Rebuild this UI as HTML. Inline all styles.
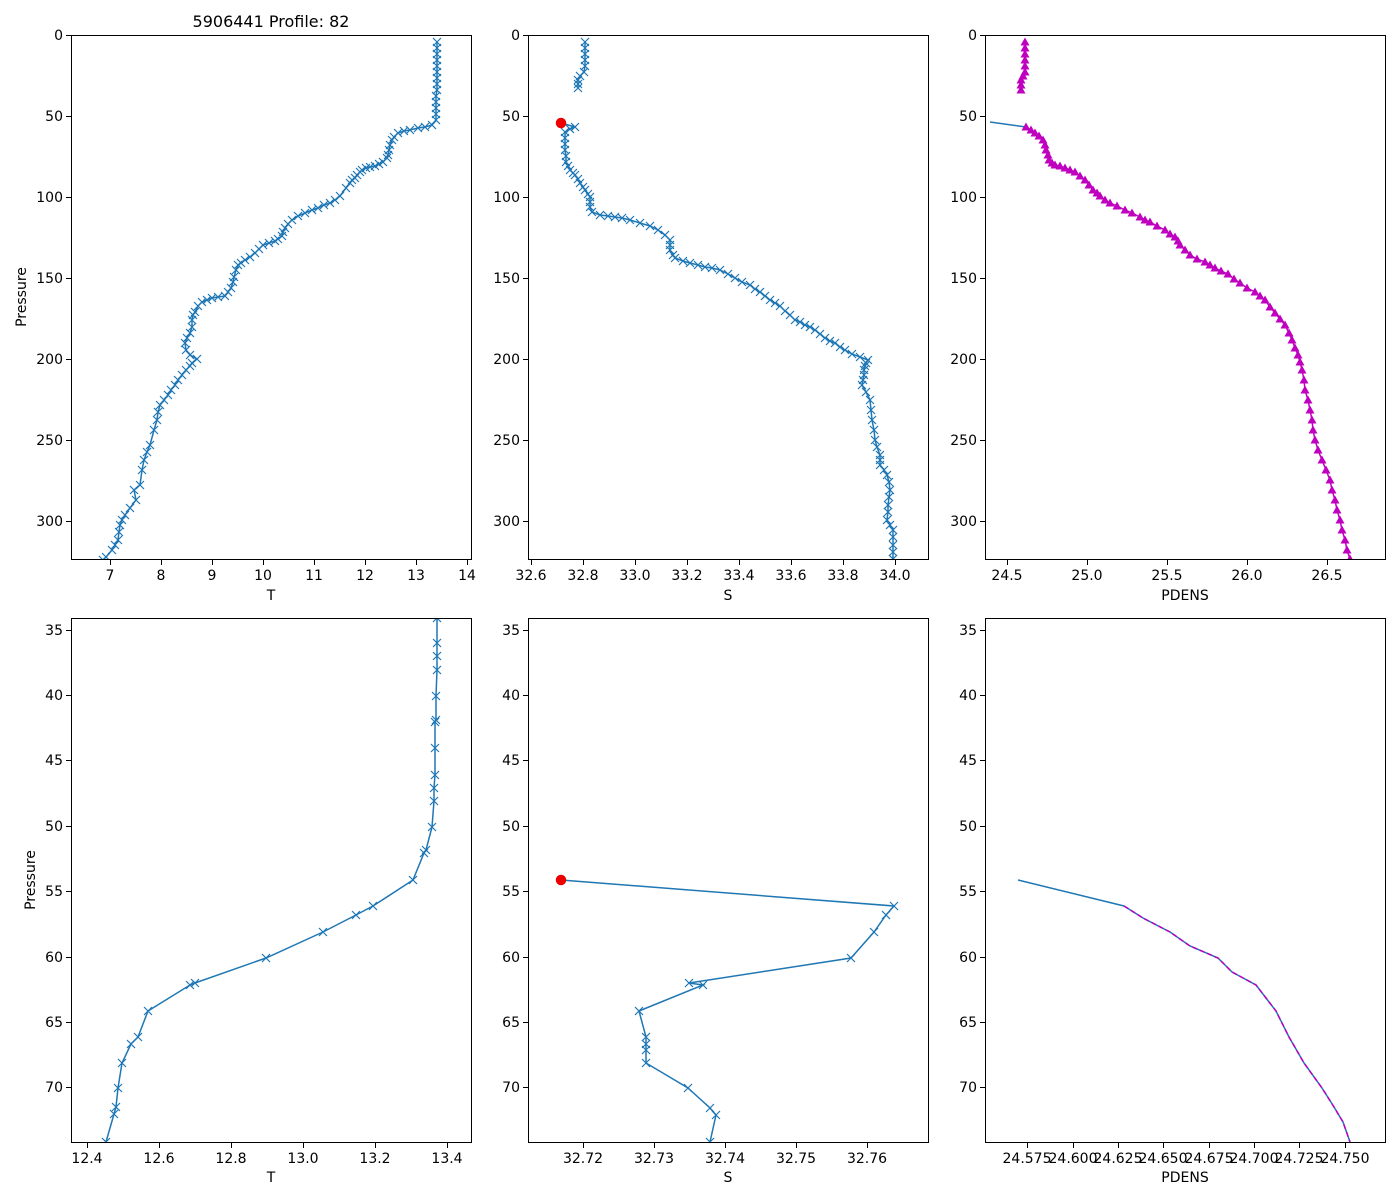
<!DOCTYPE html>
<html><head><meta charset="utf-8"><style>
html,body{margin:0;padding:0;background:#fff;}
svg{display:block;font-family:"DejaVu Sans","Liberation Sans",sans-serif;}
</style></head><body>
<svg width="1400" height="1200" viewBox="0 0 1400 1200" xmlns="http://www.w3.org/2000/svg">
<defs>
<marker id="mx" markerUnits="userSpaceOnUse" markerWidth="12" markerHeight="12" refX="6" refY="6" overflow="visible"><path d="M2,2L10,10M2,10L10,2" stroke="#1f77b4" stroke-width="1.2" fill="none"/></marker>
<marker id="mt" markerUnits="userSpaceOnUse" markerWidth="12" markerHeight="12" refX="6" refY="6" overflow="visible"><polygon points="6,1.5 10.5,9.5 1.5,9.5" fill="#bf00bf"/></marker>
<clipPath id="c1"><rect x="71" y="35" width="400" height="524"/></clipPath>
<clipPath id="c2"><rect x="528" y="35" width="400" height="524"/></clipPath>
<clipPath id="c3"><rect x="985" y="35" width="400" height="524"/></clipPath>
<clipPath id="c4"><rect x="71" y="618" width="400" height="524"/></clipPath>
<clipPath id="c5"><rect x="528" y="618" width="400" height="524"/></clipPath>
<clipPath id="c6"><rect x="985" y="618" width="400" height="524"/></clipPath>
</defs>
<rect width="1400" height="1200" fill="#fff"/>
<text x="271" y="27" font-size="16" text-anchor="middle">5906441 Profile: 82</text>

<g clip-path="url(#c1)" fill="none" stroke="#1f77b4" stroke-width="1.5">
<polyline marker-start="url(#mx)" marker-mid="url(#mx)" marker-end="url(#mx)" points="437,42 437,48 437,54 437,60 437,66 437,72 437,78 437,84 437,90 436,96 436,102 436,108 436,114 436,120 432,125 425,127 418,128 410,130 404,131 398,133 394,137 392,140 390,145 389,150 388,155 387,158 383,162 379,164 375,166 370,167 366,168 362,170 360,172 357,175 355,178 352,180 350,183 346,188 340,196 335,200 330,203 324,205 318,208 312,210 305,213 298,216 292,220 288,224 285,228 283,232 282,236 278,239 275,241 269,243 263,245 259,249 255,253 250,257 245,260 241,263 238,265 236,270 234,277 233,282 231,288 228,292 225,296 218,297 212,298 207,300 202,302 198,306 195,312 193,315 192,320 192,327 190,333 187,338 185,343 186,350 190,355 197,359 192,363 190,366 186,370 182,375 178,380 175,385 171,390 168,395 164,400 160,405 158,412 157,420 154,430 150,445 147,452 144,460 142,470 140,485 134,490 136,500 130,508 125,515 122,520 120,525 119,532 118,540 115,545 112,550 106,557 103,560"/>
</g>
<g clip-path="url(#c2)" fill="none" stroke="#1f77b4" stroke-width="1.5">
<polyline marker-start="url(#mx)" marker-mid="url(#mx)" marker-end="url(#mx)" points="585,42 585,48 585,54 585,60 585,66 584,72 580,76 578,80 578,84 578,88"/>
<polyline points="561,123 575,127"/>
<polyline marker-start="url(#mx)" marker-mid="url(#mx)" marker-end="url(#mx)" points="575,127 570,129 565,132 565,138 565,144 565,150 566,156 566,162 568,166 570,170 573,173 575,175 578,179 580,183 583,187 585,190 588,194 590,197 590,202 590,207 592,212 600,215 608,216 615,217 622,218 630,220 640,223 650,226 658,230 665,235 670,240 670,245 670,250 673,255 675,258 683,261 690,263 698,265 705,267 712,268 720,270 728,274 735,278 742,282 750,285 755,289 760,292 765,296 770,300 775,303 780,306 785,311 790,315 795,320 800,322 805,325 810,327 815,330 820,334 825,338 830,341 835,343 840,347 845,350 852,354 860,357 868,360 866,363 865,366 864,370 864,375 863,380 862,385 866,392 870,400 871,410 872,420 874,430 875,440 877,447 880,455 880,460 880,465 884,470 887,475 889,482 890,490 889,497 888,505 888,512 887,520 890,525 893,530 893,537 893,545 893,552 893,559"/>
<circle cx="561" cy="123" r="4.5" fill="#e00" stroke="#e00"/>
</g>
<g clip-path="url(#c3)" fill="none" stroke-width="1.5">
<polyline stroke="#1f77b4" points="990,122 1026,127"/>
<polyline stroke="#bf00bf" marker-start="url(#mt)" marker-mid="url(#mt)" marker-end="url(#mt)" points="1025,42 1025,48 1025,54 1025,60 1025,66 1025,72 1023,76 1021,80 1021,85 1021,90"/>
<polyline stroke="#bf00bf" marker-start="url(#mt)" marker-mid="url(#mt)" marker-end="url(#mt)" points="1026,127 1031,130 1035,133 1039,136 1043,140 1045,145 1046,150 1048,155 1049,160 1052,163 1055,165 1060,166 1065,168 1070,170 1075,172 1080,176 1085,180 1089,185 1093,190 1097,193 1100,196 1105,200 1110,203 1117,206 1125,210 1132,213 1140,217 1145,220 1150,222 1157,226 1165,230 1170,234 1175,237 1178,241 1180,245 1185,250 1190,255 1197,259 1205,262 1210,265 1215,268 1221,271 1228,274 1234,279 1240,283 1247,288 1255,292 1260,296 1265,300 1270,307 1275,313 1280,319 1285,325 1289,333 1292,340 1295,348 1298,355 1300,362 1302,370 1304,380 1305,390 1308,400 1310,410 1312,420 1313,430 1315,440 1318,450 1322,460 1326,470 1330,480 1332,490 1335,500 1337,510 1340,520 1342,530 1345,540 1347,550 1350,559"/>
</g>
<g clip-path="url(#c4)" fill="none" stroke="#1f77b4" stroke-width="1.5">
<polyline marker-start="url(#mx)" marker-mid="url(#mx)" marker-end="url(#mx)" points="437,618 437,643 437,656 437,670 436,696 436,720 435,722 435,748 435,775 434,788 434,801 432,827 426,850 424,853 413,880 373,906 356,915 323,932 266,958 195,983 190,985 148,1011 138,1037 131,1044 122,1063 118,1088 116,1107 114,1114 106,1142"/>
</g>
<g clip-path="url(#c5)" fill="none" stroke="#1f77b4" stroke-width="1.5">
<polyline marker-mid="url(#mx)" marker-end="url(#mx)" points="561,880 894,906 886,915 874,932 851,958 689,983 703,985 639,1011 646,1037 646,1044 646,1050 646,1063 688,1088 710,1108 716,1115 710,1142"/>
<circle cx="561" cy="880" r="4.5" fill="#e00" stroke="#e00"/>
</g>
<g clip-path="url(#c6)" fill="none" stroke-width="1.5">
<polyline stroke="#1f77b4" points="1018,880 1124,906 1143,918 1170,932 1190,946 1218,958 1232,972 1256,985 1276,1011 1289,1037 1304,1063 1322,1088 1334,1107 1343,1122 1350,1142"/>
<polyline stroke="#bf00bf" stroke-dasharray="5,3" points="1124,906 1143,918 1170,932 1190,946 1218,958 1232,972 1256,985 1276,1011 1289,1037 1304,1063 1322,1088 1334,1107 1343,1122 1350,1142"/>
</g>

<g fill="none" stroke="#000" stroke-width="1">
<rect x="71.5" y="35.5" width="400" height="524"/>
<rect x="528.5" y="35.5" width="400" height="524"/>
<rect x="985.5" y="35.5" width="400" height="524"/>
<rect x="71.5" y="618.5" width="400" height="524"/>
<rect x="528.5" y="618.5" width="400" height="524"/>
<rect x="985.5" y="618.5" width="400" height="524"/>
</g>

<g stroke="#000" stroke-width="1">
<path d="M66,35.5h5M66,116.5h5M66,197.5h5M66,278.5h5M66,359.5h5M66,440.5h5M66,521.5h5
M523,35.5h5M523,116.5h5M523,197.5h5M523,278.5h5M523,359.5h5M523,440.5h5M523,521.5h5
M980,35.5h5M980,116.5h5M980,197.5h5M980,278.5h5M980,359.5h5M980,440.5h5M980,521.5h5"/>
<path d="M66,630.5h5M66,695.5h5M66,760.5h5M66,826.5h5M66,891.5h5M66,957.5h5M66,1022.5h5M66,1087.5h5
M523,630.5h5M523,695.5h5M523,760.5h5M523,826.5h5M523,891.5h5M523,957.5h5M523,1022.5h5M523,1087.5h5
M980,630.5h5M980,695.5h5M980,760.5h5M980,826.5h5M980,891.5h5M980,957.5h5M980,1022.5h5M980,1087.5h5"/>
<path d="M110.5,560v5M161.5,560v5M212.5,560v5M263.5,560v5M314.5,560v5M365.5,560v5M416.5,560v5M467.5,560v5
M531.5,560v5M583.5,560v5M635.5,560v5M687.5,560v5M739.5,560v5M791.5,560v5M843.5,560v5M895.5,560v5
M1007.5,560v5M1087.5,560v5M1167.5,560v5M1247.5,560v5M1327.5,560v5"/>
<path d="M87.5,1143v5M159.5,1143v5M231.5,1143v5M303.5,1143v5M375.5,1143v5M447.5,1143v5
M583.5,1143v5M654.5,1143v5M725.5,1143v5M796.5,1143v5M867.5,1143v5
M1027.5,1143v5M1073.5,1143v5M1118.5,1143v5M1163.5,1143v5M1209.5,1143v5M1254.5,1143v5M1299.5,1143v5M1345.5,1143v5"/>
</g>
<g font-size="14" fill="#000">
<g text-anchor="end">
<text x="63" y="40">0</text><text x="63" y="121">50</text><text x="63" y="202">100</text><text x="63" y="283">150</text><text x="63" y="364">200</text><text x="63" y="445">250</text><text x="63" y="526">300</text>
<text x="520" y="40">0</text><text x="520" y="121">50</text><text x="520" y="202">100</text><text x="520" y="283">150</text><text x="520" y="364">200</text><text x="520" y="445">250</text><text x="520" y="526">300</text>
<text x="977" y="40">0</text><text x="977" y="121">50</text><text x="977" y="202">100</text><text x="977" y="283">150</text><text x="977" y="364">200</text><text x="977" y="445">250</text><text x="977" y="526">300</text>
<text x="63" y="635">35</text><text x="63" y="700">40</text><text x="63" y="765">45</text><text x="63" y="831">50</text><text x="63" y="896">55</text><text x="63" y="962">60</text><text x="63" y="1027">65</text><text x="63" y="1092">70</text>
<text x="520" y="635">35</text><text x="520" y="700">40</text><text x="520" y="765">45</text><text x="520" y="831">50</text><text x="520" y="896">55</text><text x="520" y="962">60</text><text x="520" y="1027">65</text><text x="520" y="1092">70</text>
<text x="977" y="635">35</text><text x="977" y="700">40</text><text x="977" y="765">45</text><text x="977" y="831">50</text><text x="977" y="896">55</text><text x="977" y="962">60</text><text x="977" y="1027">65</text><text x="977" y="1092">70</text>
</g>
<g text-anchor="middle">
<text x="110" y="580">7</text><text x="161" y="580">8</text><text x="212" y="580">9</text><text x="263" y="580">10</text><text x="314" y="580">11</text><text x="365" y="580">12</text><text x="416" y="580">13</text><text x="467" y="580">14</text>
<text x="531" y="580">32.6</text><text x="583" y="580">32.8</text><text x="635" y="580">33.0</text><text x="687" y="580">33.2</text><text x="739" y="580">33.4</text><text x="791" y="580">33.6</text><text x="843" y="580">33.8</text><text x="895" y="580">34.0</text>
<text x="1007" y="580">24.5</text><text x="1087" y="580">25.0</text><text x="1167" y="580">25.5</text><text x="1247" y="580">26.0</text><text x="1327" y="580">26.5</text>
<text x="87" y="1163">12.4</text><text x="159" y="1163">12.6</text><text x="231" y="1163">12.8</text><text x="303" y="1163">13.0</text><text x="375" y="1163">13.2</text><text x="447" y="1163">13.4</text>
<text x="583" y="1163">32.72</text><text x="654" y="1163">32.73</text><text x="725" y="1163">32.74</text><text x="796" y="1163">32.75</text><text x="867" y="1163">32.76</text>
<text x="1027" y="1163">24.575</text><text x="1073" y="1163">24.600</text><text x="1118" y="1163">24.625</text><text x="1163" y="1163">24.650</text><text x="1209" y="1163">24.675</text><text x="1254" y="1163">24.700</text><text x="1299" y="1163">24.725</text><text x="1345" y="1163">24.750</text>
<text x="271" y="600">T</text><text x="728" y="600">S</text><text x="1185" y="600">PDENS</text>
<text x="271" y="1182">T</text><text x="728" y="1182">S</text><text x="1185" y="1182">PDENS</text>
</g>
<text transform="translate(26,297) rotate(-90)" text-anchor="middle">Pressure</text>
<text transform="translate(35,880) rotate(-90)" text-anchor="middle">Pressure</text>
</g>
</svg>
</body></html>
